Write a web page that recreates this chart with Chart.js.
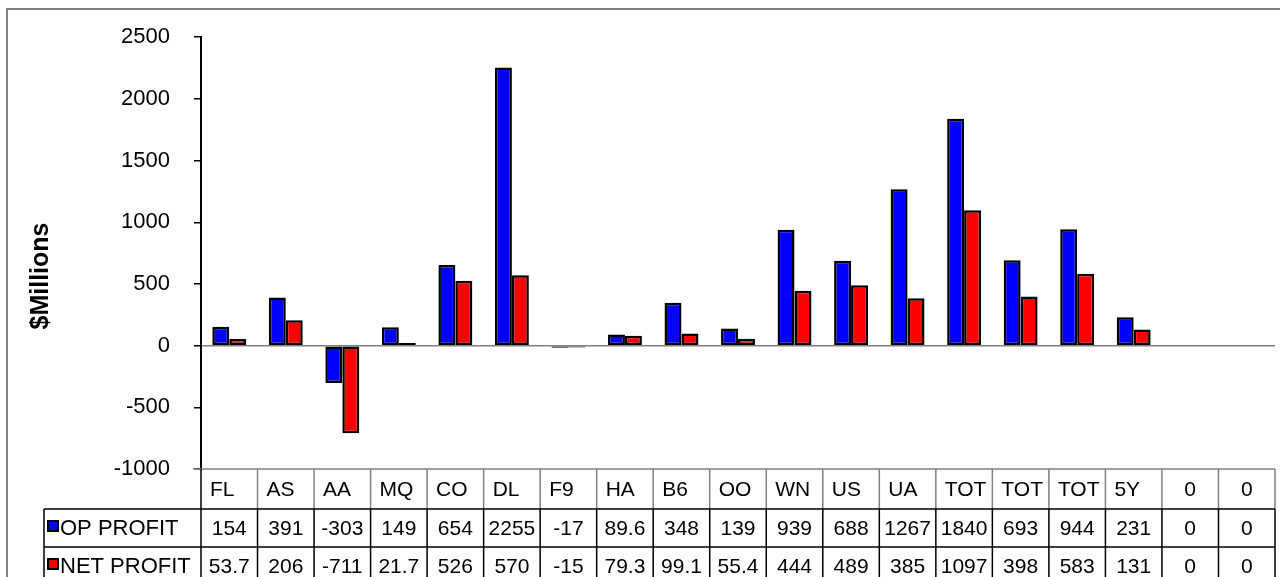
<!DOCTYPE html>
<html>
<head>
<meta charset="utf-8">
<script src="https://cdn.jsdelivr.net/npm/chart.js@4/dist/chart.umd.min.js"></script>
<style>
  html, body { margin: 0; padding: 0; background: #fff; }
  #wrap { width: 1280px; height: 577px; }
</style>
</head>
<body>
<div id="wrap"><canvas id="chart" width="1280" height="577"></canvas></div>
<script>
// airline codes along the x axis
const categories = ['FL', 'AS', 'AA', 'MQ', 'CO', 'DL', 'F9', 'HA', 'B6', 'OO', 'WN', 'US', 'UA', 'TOT', 'TOT', 'TOT', '5Y', '0', '0'];
const opProfit = [154, 391, -303, 149, 654, 2255, -17, 89.6, 348, 139, 939, 688, 1267, 1840, 693, 944, 231, 0, 0];
const netProfit = [53.7, 206, -711, 21.7, 526, 570, -15, 79.3, 99.1, 55.4, 444, 489, 385, 1097, 398, 583, 131, 0, 0];
const seriesNames = ['OP PROFIT', 'NET PROFIT'];
const seriesColors = ['#0000FF', '#FF0000'];
const yMin = -1000;
const yMax = 2500;
const yStep = 500;

const FONT = '"Liberation Sans", Arial, sans-serif';

// grey frame round the whole chart
const framePlugin = {
    id: 'frame',
    beforeDraw(chart) {
        const ctx = chart.ctx;
        ctx.save();
        ctx.fillStyle = '#fff';
        ctx.fillRect(0, 0, chart.width, chart.height);
        ctx.strokeStyle = '#808080';
        ctx.lineWidth = 2;
        ctx.strokeRect(7, 9, chart.width + 20, chart.height + 20);
        ctx.restore();
    }
};

// y axis title, drawn by hand so it sits where Excel put it
const yTitlePlugin = {
    id: 'yTitle',
    afterDraw(chart) {
        const ctx = chart.ctx;
        ctx.save();
        ctx.translate(41, 276);
        ctx.rotate(-Math.PI / 2);
        ctx.font = 'bold 25px ' + FONT;
        ctx.fillStyle = '#000';
        ctx.textAlign = 'center';
        ctx.textBaseline = 'middle';
        ctx.fillText('$Millions', 0, 0);
        ctx.restore();
    }
};

// Excel style data table under the plot
const dataTablePlugin = {
    id: 'dataTable',
    afterDraw(chart) {
        const ctx = chart.ctx;
        const a = chart.chartArea;
        const n = categories.length;
        const w = a.width / n;
        const headTop = a.bottom;
        const headH = 40;
        const rowH = 38;
        const tableLeft = 44;
        const rows = [opProfit, netProfit];

        ctx.save();
        ctx.lineWidth = 1.5;

        // header row (grey lines)
        ctx.strokeStyle = '#808080';
        ctx.beginPath();
        ctx.moveTo(a.left - 8, headTop);
        ctx.lineTo(a.right, headTop);
        for (let i = 1; i <= n; i++) {
            const x = a.left + i * w;
            ctx.moveTo(x, headTop);
            ctx.lineTo(x, headTop + headH);
        }
        ctx.stroke();

        // value rows (black lines)
        ctx.strokeStyle = '#000';
        ctx.beginPath();
        for (let r = 0; r < rows.length; r++) {
            const y = headTop + headH + r * rowH;
            ctx.moveTo(tableLeft, y);
            ctx.lineTo(a.right, y);
        }
        ctx.moveTo(tableLeft, headTop + headH);
        ctx.lineTo(tableLeft, chart.height + 10);
        for (let i = 0; i <= n; i++) {
            const x = a.left + i * w;
            ctx.moveTo(x, i === 0 ? headTop : headTop + headH);
            ctx.lineTo(x, chart.height + 10);
        }
        ctx.stroke();

        // category labels
        ctx.fillStyle = '#000';
        ctx.font = '21px ' + FONT;
        ctx.textBaseline = 'middle';
        categories.forEach((c, i) => {
            const x0 = a.left + i * w;
            if (/^[0-9]+$/.test(c)) {
                ctx.textAlign = 'center';
                ctx.fillText(c, x0 + w / 2, headTop + headH / 2 + 1);
            } else {
                ctx.textAlign = 'left';
                ctx.fillText(c, x0 + 9, headTop + headH / 2 + 1);
            }
        });

        // series names with legend keys, then values
        rows.forEach((vals, r) => {
            const yTop = headTop + headH + r * rowH;
            const yMid = yTop + rowH / 2 + 1;
            ctx.fillStyle = seriesColors[r];
            ctx.fillRect(48, yTop + 12, 10, 10);
            ctx.strokeStyle = '#000';
            ctx.lineWidth = 2;
            ctx.strokeRect(48, yTop + 12, 10, 10);
            ctx.fillStyle = '#000';
            ctx.textAlign = 'left';
            ctx.font = '22px ' + FONT;
            ctx.fillText(seriesNames[r], 60, yMid);
            ctx.font = '21px ' + FONT;
            ctx.textAlign = 'center';
            vals.forEach((v, i) => {
                ctx.fillText(String(v), a.left + (i + 0.5) * w, yMid);
            });
        });
        ctx.restore();
    }
};

new Chart(document.getElementById('chart').getContext('2d'), {
    type: 'bar',
    data: {
        labels: categories,
        datasets: [{
            label: seriesNames[0],
            data: opProfit,
            backgroundColor: seriesColors[0],
            borderColor: '#000',
            borderWidth: 2.5,
            borderSkipped: false
        }, {
            label: seriesNames[1],
            data: netProfit,
            backgroundColor: seriesColors[1],
            borderColor: '#000',
            borderWidth: 2.5,
            borderSkipped: false
        }]
    },
    options: {
        responsive: false,
        animation: false,
        categoryPercentage: 0.6,
        barPercentage: 1.0,
        layout: { padding: { top: 34, bottom: 108, right: 5, left: 0 } },
        plugins: {
            legend: { display: false },
            tooltip: { enabled: false }
        },
        scales: {
            x: { display: false },
            y: {
                min: yMin,
                max: yMax,
                afterFit(scale) { scale.width = 201; },
                ticks: {
                    stepSize: yStep,
                    padding: 24,
                    color: '#000',
                    font: { family: FONT, size: 22 },
                    callback: v => String(v)
                },
                grid: {
                    color: c => (c.tick && c.tick.value === 0) ? '#808080' : 'rgba(0,0,0,0)',
                    lineWidth: 1.5,
                    tickColor: '#000',
                    tickLength: 7
                },
                border: { color: '#000', width: 2 }
            }
        }
    },
    plugins: [framePlugin, yTitlePlugin, dataTablePlugin]
});
</script>
</body>
</html>
